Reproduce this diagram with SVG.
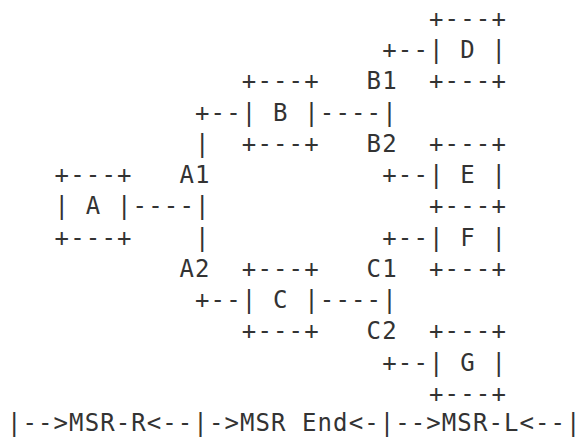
<svg xmlns="http://www.w3.org/2000/svg" width="582" height="437" viewBox="0 0 582 437">
<style>
text{font-family:"DejaVu Sans Mono","Liberation Mono",monospace;font-size:24px;letter-spacing:1.15px;fill:#333;white-space:pre}
text.bottom{letter-spacing:1.08px}
</style>
<rect width="582" height="437" fill="#fff"/>
<g id="connectors">
<text x="382.2" y="58">+--</text>
<text x="195" y="120.5">+--</text>
<text x="319.8" y="120.5">----|</text>
<text x="195" y="151.75">|</text>
<text x="382.2" y="183">+--</text>
<text x="132.6" y="214.25">----|</text>
<text x="195" y="245.5">|</text>
<text x="382.2" y="245.5">+--</text>
<text x="195" y="308">+--</text>
<text x="319.8" y="308">----|</text>
<text x="382.2" y="370.5">+--</text>
</g>
<g id="node-A">
<text x="54.6" y="183">+---+</text>
<text x="54.6" y="214.25" xml:space="preserve">| A |</text>
<text x="54.6" y="245.5">+---+</text>
</g>
<g id="node-B">
<text x="241.8" y="89.25">+---+</text>
<text x="241.8" y="120.5" xml:space="preserve">| B |</text>
<text x="241.8" y="151.75">+---+</text>
</g>
<g id="node-C">
<text x="241.8" y="276.75">+---+</text>
<text x="241.8" y="308" xml:space="preserve">| C |</text>
<text x="241.8" y="339.25">+---+</text>
</g>
<g id="node-D">
<text x="429" y="26.75">+---+</text>
<text x="429" y="58" xml:space="preserve">| D |</text>
<text x="429" y="89.25">+---+</text>
</g>
<g id="node-E">
<text x="429" y="151.75">+---+</text>
<text x="429" y="183" xml:space="preserve">| E |</text>
<text x="429" y="214.25">+---+</text>
</g>
<g id="node-F">
<text x="429" y="245.5" xml:space="preserve">| F |</text>
<text x="429" y="276.75">+---+</text>
</g>
<g id="node-G">
<text x="429" y="339.25">+---+</text>
<text x="429" y="370.5" xml:space="preserve">| G |</text>
<text x="429" y="401.75">+---+</text>
</g>
<g id="labels">
<text x="179.4" y="183">A1</text>
<text x="179.4" y="276.75">A2</text>
<text x="366.6" y="89.25">B1</text>
<text x="366.6" y="151.75">B2</text>
<text x="366.6" y="276.75">C1</text>
<text x="366.6" y="339.25">C2</text>
<text class="bottom" x="7" y="431.2" xml:space="preserve">|--&gt;MSR-R&lt;--|-&gt;MSR End&lt;-|--&gt;MSR-L&lt;--|</text>
</g>
</svg>
